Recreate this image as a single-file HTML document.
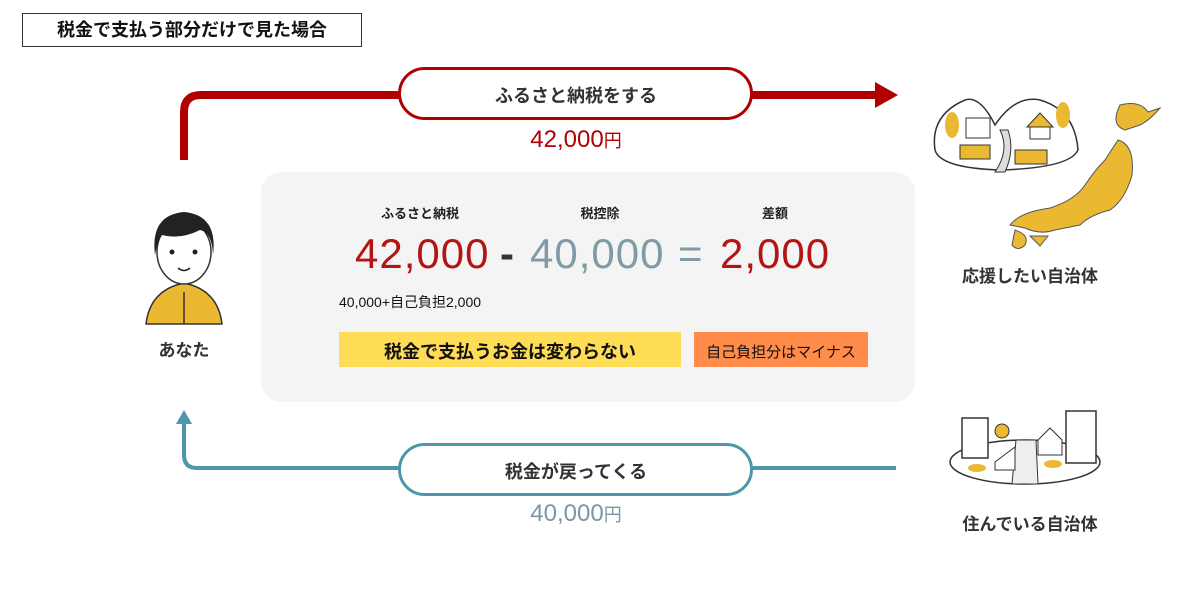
<!DOCTYPE html>
<html><head><meta charset="utf-8"><style>
body{margin:0;width:1200px;height:600px;background:#fff;overflow:hidden;position:relative;font-family:"Liberation Sans","Noto Sans CJK JP",sans-serif;}
.a{position:absolute;white-space:nowrap}
.b{font-weight:bold}
</style></head><body>
<svg width="1200" height="600" style="position:absolute;left:0;top:0">
  <path d="M184 160 V112 Q184 95 201 95 H876" fill="none" stroke="#b00000" stroke-width="8"/>
  <polygon points="875,82 898,95 875,108" fill="#b00000"/>
  <rect x="399.5" y="68.5" width="352" height="50" rx="25" fill="#fff" stroke="#b00000" stroke-width="3"/>
  <path d="M184 423 V455 Q184 468 197 468 H896" fill="none" stroke="#4c97ab" stroke-width="4"/>
  <polygon points="176,424 184,410 192,424" fill="#4c97ab"/>
  <rect x="399.5" y="444.5" width="352" height="50" rx="25" fill="#fff" stroke="#4c97ab" stroke-width="3"/>
  <rect x="261" y="172" width="654" height="230" rx="20" fill="#f4f4f4"/>
  <rect x="339" y="332" width="342" height="35" fill="#ffdc55"/>
  <rect x="694" y="332" width="174" height="35" fill="#ff8c4a"/>
  <path d="M146 324 Q150 290 184 283 Q218 290 222 324 Z" fill="#ebb832" stroke="#333" stroke-width="1.5"/>
  <line x1="184" y1="292" x2="184" y2="324" stroke="#333" stroke-width="1.5"/>
  <ellipse cx="184" cy="252" rx="27" ry="32" fill="#fff" stroke="#333" stroke-width="1.5"/>
  <path d="M155 255 Q150 215 184 212 Q218 215 213 255 Q212 232 200 230 Q180 240 162 235 Q158 240 155 255Z" fill="#222"/>
  <circle cx="172" cy="252" r="2.5" fill="#222"/><circle cx="195" cy="252" r="2.5" fill="#222"/>
  <path d="M178 268 Q184 273 190 268" fill="none" stroke="#222" stroke-width="1.5"/>
  <path d="M935 150 Q930 115 965 100 Q980 95 995 125 Q1015 95 1040 100 Q1075 110 1078 150 Q1070 168 1000 170 Q940 168 935 150Z" fill="#fff" stroke="#333" stroke-width="1.5"/>
  <path d="M1000 130 Q1010 150 995 172 L1005 172 Q1015 150 1008 130Z" fill="#ddd" stroke="#333" stroke-width="1"/>
  <rect x="960" y="145" width="30" height="14" fill="#ebb832" stroke="#333"/>
  <rect x="1015" y="150" width="32" height="14" fill="#ebb832" stroke="#333"/>
  <ellipse cx="952" cy="125" rx="7" ry="13" fill="#ebb832"/>
  <ellipse cx="1063" cy="115" rx="7" ry="13" fill="#ebb832"/>
  <rect x="966" y="118" width="24" height="20" fill="#fff" stroke="#333"/>
  <polygon points="1027,127 1040,113 1053,127" fill="#ebb832" stroke="#333"/>
  <rect x="1030" y="127" width="20" height="12" fill="#fff" stroke="#333"/>
  <path d="M1120 105 Q1140 100 1148 112 L1160 108 Q1150 120 1140 125 L1125 130 Q1110 125 1120 105Z M1118 140 Q1135 145 1132 175 Q1125 200 1110 210 Q1090 215 1080 225 L1055 230 Q1040 235 1025 228 L1010 225 Q1020 212 1050 208 Q1075 200 1085 185 Q1095 170 1105 160 Z M1015 230 Q1030 235 1025 245 Q1018 252 1012 245Z M1030 236 L1048 236 L1040 246Z" fill="#ebb832" stroke="#555" stroke-width="1"/>
  <ellipse cx="1025" cy="462" rx="75" ry="22" fill="#fff" stroke="#333" stroke-width="1.5"/>
  <rect x="962" y="418" width="26" height="40" fill="#fff" stroke="#333" stroke-width="1.5"/>
  <rect x="1066" y="411" width="30" height="52" fill="#fff" stroke="#333" stroke-width="1.5"/>
  <circle cx="1002" cy="431" r="7" fill="#ebb832" stroke="#333"/>
  <polygon points="1016,440 1036,440 1038,484 1012,484" fill="#eee" stroke="#333"/>
  <polygon points="1038,440 1050,428 1062,440 1062,455 1038,455" fill="#fff" stroke="#333"/>
  <polygon points="995,462 1015,447 1015,470 995,470" fill="#fff" stroke="#333"/>
  <ellipse cx="977" cy="468" rx="9" ry="4" fill="#ebb832"/>
  <ellipse cx="1053" cy="464" rx="9" ry="4" fill="#ebb832"/>
</svg>
<div class="a b" style="left:22px;top:13px;width:338px;height:32px;border:1px solid #333;font-size:18px;line-height:32px;text-align:center;color:#111;">税金で支払う部分だけで見た場合</div>
<div class="a b" style="left:400px;top:82px;width:352px;text-align:center;font-size:18px;color:#333;">ふるさと納税をする</div>
<div class="a" style="left:400px;top:126px;width:352px;text-align:center;font-size:24px;color:#b00000;">42,000<span style="font-size:18px">円</span></div>
<div class="a b" style="left:400px;top:458px;width:352px;text-align:center;font-size:18px;color:#333;">税金が戻ってくる</div>
<div class="a" style="left:400px;top:500px;width:352px;text-align:center;font-size:24px;color:#7a97a3;">40,000<span style="font-size:18px">円</span></div>
<div class="a b" style="left:146px;top:336px;width:76px;text-align:center;font-size:17px;color:#333;">あなた</div>
<div class="a b" style="left:940px;top:262px;width:180px;text-align:center;font-size:17px;color:#333;">応援したい自治体</div>
<div class="a b" style="left:940px;top:510px;width:180px;text-align:center;font-size:17px;color:#333;">住んでいる自治体</div>
<div class="a b" style="left:370px;top:203px;width:100px;text-align:center;font-size:13px;color:#222;">ふるさと納税</div>
<div class="a b" style="left:550px;top:203px;width:100px;text-align:center;font-size:13px;color:#222;">税控除</div>
<div class="a b" style="left:735px;top:203px;width:80px;text-align:center;font-size:13px;color:#222;">差額</div>
<div class="a" style="left:355px;top:230px;font-size:42px;color:#b31414;letter-spacing:1px;">42,000</div>
<div class="a b" style="left:500px;top:230px;font-size:42px;color:#333;">-</div>
<div class="a" style="left:530px;top:230px;font-size:42px;color:#7f9ba6;letter-spacing:1px;">40,000</div>
<div class="a" style="left:678px;top:230px;font-size:42px;color:#7f9ba6;">=</div>
<div class="a" style="left:720px;top:230px;font-size:42px;color:#b31414;letter-spacing:1px;">2,000</div>
<div class="a" style="left:339px;top:292px;font-size:14px;color:#111;">40,000+自己負担2,000</div>
<div class="a b" style="left:339px;top:338px;width:342px;text-align:center;font-size:18px;color:#111;">税金で支払うお金は変わらない</div>
<div class="a" style="left:694px;top:341px;width:174px;text-align:center;font-size:15px;color:#111;">自己負担分はマイナス</div>
</body></html>
